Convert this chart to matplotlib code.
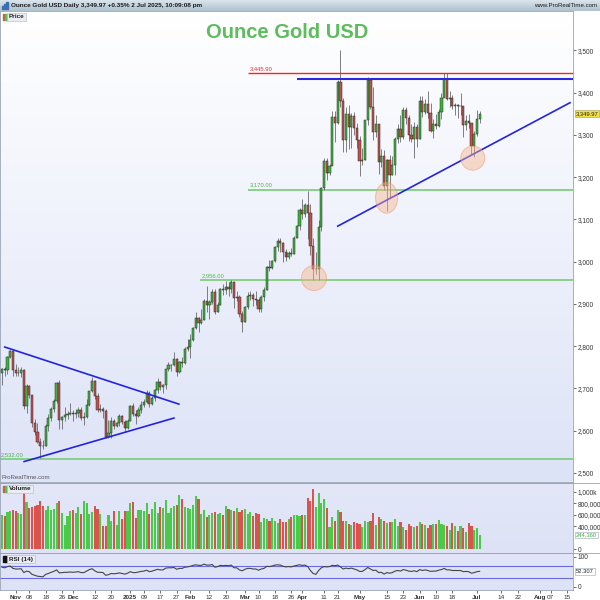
import numpy as np
import pandas as pd
import matplotlib
matplotlib.use('Agg')
import matplotlib.pyplot as plt
from matplotlib.patches import Ellipse, Rectangle
from matplotlib.lines import Line2D
from matplotlib.colors import LinearSegmentedColormap

plt.rcParams['font.family'] = ['Liberation Sans', 'DejaVu Sans']

# trading days (no bars on these holidays)
holidays = ['2024-12-25', '2025-01-01', '2025-04-18']
all_days = pd.bdate_range('2024-10-25', '2025-08-29').drop(pd.to_datetime(holidays))
dates = all_days[all_days <= '2025-07-02']

first_open = 2736
closes = [2747, 2743, 2774, 2788, 2743,
          2736, 2736, 2743, 2659, 2706, 2685, 2618, 2598, 2573, 2565, 2563, 2612, 2631, 2651, 2670, 2712, 2626, 2633, 2638, 2639, 2643,
          2639, 2643, 2650, 2631, 2633, 2660, 2694, 2718, 2681, 2648, 2652, 2646, 2586, 2594, 2622, 2612, 2618, 2634, 2621, 2606, 2624,
          2658, 2640, 2636, 2648, 2662, 2669, 2690, 2663, 2677, 2697, 2715, 2703, 2708, 2745, 2755, 2755, 2770, 2740, 2763, 2760, 2794, 2798,
          2815, 2842, 2867, 2856, 2861, 2908, 2898, 2904, 2928, 2882, 2898, 2935, 2933, 2939, 2936, 2951, 2915, 2916, 2876, 2858,
          2893, 2918, 2920, 2911, 2910, 2889, 2917, 2934, 2988, 2984, 3001, 3034, 3048, 3043, 3023, 3011, 3020, 3018, 3057, 3084, 3123,
          3113, 3133, 3114, 3037, 2982, 2982, 3082, 3175, 3237, 3210, 3227, 3342, 3327, 3424, 3380, 3288, 3349, 3319, 3344, 3316, 3288,
          3239, 3240, 3334, 3430, 3366, 3306, 3325, 3236, 3249, 3178, 3240, 3205, 3229, 3290, 3315, 3294, 3358, 3341, 3300, 3289, 3318, 3289,
          3381, 3353, 3374, 3352, 3310, 3326, 3322, 3355, 3386, 3433, 3385, 3388, 3369, 3370, 3368, 3368, 3324, 3332, 3328, 3274, 3303,
          3338, 3349.97]
highs = [2749, 2750, 2776, 2790, 2790,
         2758, 2750, 2750, 2745, 2710, 2709, 2685, 2627, 2618, 2583, 2577, 2616, 2639, 2656, 2674, 2716, 2721, 2636, 2657, 2647, 2666,
         2649, 2652, 2657, 2657, 2644, 2676, 2695, 2726, 2721, 2690, 2664, 2655, 2651, 2626, 2632, 2627, 2621, 2639, 2637, 2625, 2627,
         2660, 2665, 2648, 2656, 2670, 2674, 2697, 2694, 2681, 2699, 2724, 2717, 2711, 2746, 2763, 2758, 2786, 2773, 2766, 2774, 2799, 2817,
         2830, 2845, 2882, 2870, 2887, 2911, 2942, 2910, 2935, 2935, 2905, 2938, 2947, 2955, 2953, 2956, 2952, 2930, 2922, 2883,
         2896, 2928, 2930, 2926, 2930, 2915, 2922, 2940, 2990, 3005, 3003, 3038, 3055, 3057, 3047, 3029, 3025, 3033, 3060, 3087, 3128,
         3149, 3139, 3167, 3136, 3055, 3022, 3099, 3176, 3245, 3245, 3232, 3357, 3357, 3430, 3500, 3386, 3367, 3371, 3352, 3353, 3327,
         3297, 3270, 3336, 3437, 3435, 3414, 3347, 3326, 3266, 3265, 3242, 3253, 3249, 3295, 3325, 3346, 3366, 3366, 3348, 3326, 3330, 3326,
         3393, 3392, 3385, 3403, 3375, 3338, 3349, 3360, 3398, 3446, 3446, 3403, 3395, 3375, 3374, 3398, 3368, 3347, 3350, 3328, 3309,
         3358, 3357]
lows = [2709, 2730, 2735, 2771, 2730,
        2730, 2730, 2726, 2652, 2643, 2677, 2610, 2590, 2570, 2536, 2556, 2563, 2599, 2622, 2644, 2666, 2605, 2605, 2624, 2627, 2637,
        2622, 2631, 2633, 2625, 2613, 2631, 2658, 2691, 2675, 2644, 2645, 2630, 2583, 2583, 2583, 2603, 2610, 2612, 2615, 2597, 2603,
        2624, 2635, 2615, 2633, 2641, 2657, 2666, 2656, 2660, 2670, 2689, 2696, 2690, 2699, 2741, 2741, 2752, 2730, 2736, 2751, 2757, 2789,
        2772, 2812, 2840, 2834, 2853, 2861, 2880, 2864, 2900, 2876, 2881, 2897, 2922, 2924, 2919, 2926, 2890, 2906, 2869, 2833,
        2857, 2888, 2910, 2894, 2897, 2880, 2880, 2906, 2932, 2977, 2982, 3000, 3026, 3023, 2999, 3002, 3006, 3013, 3017, 3055, 3076,
        3100, 3105, 3054, 3015, 2956, 2970, 2957, 3073, 3169, 3193, 3204, 3228, 3283, 3326, 3367, 3260, 3260, 3266, 3268, 3300, 3268,
        3202, 3228, 3240, 3324, 3360, 3288, 3294, 3207, 3224, 3170, 3121, 3154, 3205, 3205, 3280, 3282, 3289, 3325, 3285, 3284, 3245, 3272,
        3289, 3343, 3349, 3340, 3307, 3293, 3315, 3318, 3337, 3398, 3382, 3366, 3362, 3348, 3340, 3347, 3295, 3311, 3317, 3255, 3247,
        3297, 3328]
# volume in thousands
volumes = [600, 580, 650, 660, 690,
           660, 640, 620, 1030, 830, 720, 740, 760, 770, 840, 760, 680, 750, 690, 700, 800, 850, 630, 420, 580, 660,
           680, 640, 740, 620, 850, 800, 610, 650, 760, 700, 610, 400, 400, 590, 500, 660, 420, 660, 530, 660, 660,
           800, 820, 540, 690, 690, 670, 800, 610, 700, 820, 640, 730, 720, 860, 640, 720, 750, 780, 950, 870, 740, 720,
           700, 780, 930, 880, 620, 680, 560, 600, 640, 650, 620, 640, 600, 750, 710, 690, 660, 720, 650, 680,
           700, 620, 650, 580, 640, 620, 470, 550, 520, 500, 540, 490, 450, 520, 470, 470, 520, 560, 600, 590, 580,
           590, 600, 890, 850, 1060, 730, 980, 810, 880, 720, 380, 560, 500, 680, 650, 500, 490, 430, 420, 470, 450,
           430, 380, 490, 480, 500, 640, 420, 560, 520, 500, 460, 470, 480, 520, 400, 470, 380, 340, 430, 400, 380, 400,
           480, 440, 420, 360, 420, 430, 430, 510, 440, 420, 410, 330, 460, 400, 320, 410, 360, 290, 460, 410, 330,
           370, 244.36]
rsi = [66, 64, 68, 70, 62,
       60, 60, 61, 48, 53, 51, 42, 39, 36, 35, 34, 42, 45, 49, 52, 57, 47, 48, 49, 49, 50,
       49, 50, 51, 48, 48, 53, 58, 61, 54, 49, 49, 48, 39, 41, 45, 44, 45, 47, 45, 43, 46,
       51, 48, 48, 50, 52, 53, 56, 51, 53, 56, 59, 57, 57, 63, 64, 64, 65, 59, 62, 62, 66, 67,
       69, 72, 74, 72, 72, 76, 73, 73, 75, 66, 68, 72, 71, 72, 71, 73, 64, 64, 57, 54,
       59, 62, 62, 60, 60, 56, 60, 62, 69, 68, 70, 73, 74, 73, 69, 67, 68, 67, 70, 72, 74,
       72, 73, 68, 55, 45, 42, 55, 64, 68, 67, 68, 72, 71, 73, 67, 60, 63, 61, 63, 60, 57,
       52, 52, 58, 65, 60, 55, 56, 48, 49, 43, 48, 46, 48, 53, 55, 53, 58, 56, 53, 52, 54, 51,
       58, 55, 57, 55, 52, 53, 53, 56, 58, 62, 57, 57, 55, 55, 55, 55, 51, 52, 51, 46, 48,
       51, 52.307]

# drawn levels and trendlines (bar index, price)
red_level = 3445.90
blue_level = 3431
green_levels = [(3170, 90.1), (2956, 72.5), (2532, -1)]
trendlines = [((1.0, 2798), (64.8, 2663)),
              ((8.1, 2527), (63.0, 2630)),
              ((123.0, 3084), (208.1, 3376))]
circles = [(114.3, 2961, 9.2, 59), (140.9, 3151, 8.1, 73), (172.5, 3245, 8.8, 57)]

x_labels = [('2024-11-01', 'Nov'), ('2024-11-08', '08'), ('2024-11-18', '18'), ('2024-11-26', '26'),
            ('2024-12-02', 'Dec'), ('2024-12-12', '12'), ('2024-12-20', '20'), ('2025-01-02', '2025'),
            ('2025-01-09', '09'), ('2025-01-17', '17'), ('2025-01-27', '27'), ('2025-02-03', 'Feb'),
            ('2025-02-12', '12'), ('2025-02-20', '20'), ('2025-03-03', 'Mar'), ('2025-03-10', '10'),
            ('2025-03-18', '18'), ('2025-03-26', '26'), ('2025-04-01', 'Apr'), ('2025-04-11', '11'),
            ('2025-04-21', '21'), ('2025-05-01', 'May'), ('2025-05-15', '15'), ('2025-05-23', '23'),
            ('2025-06-02', 'Jun'), ('2025-06-10', '10'), ('2025-06-18', '18'), ('2025-07-01', 'Jul'),
            ('2025-07-14', '14'), ('2025-07-22', '22'), ('2025-08-01', 'Aug'), ('2025-08-07', '07'),
            ('2025-08-15', '15')]

opens = [first_open] + closes[:-1]
x = np.arange(len(dates))
o = np.array(opens, float)
c = np.array(closes, float)
up = c >= o

W, H = 600, 600
fig = plt.figure(figsize=(6, 6), dpi=100, facecolor='white')


def px_axes(x0, y0, x1, y1):
    return fig.add_axes([x0 / W, 1 - y1 / H, (x1 - x0) / W, (y1 - y0) / H])


def gradient(ax, top, bottom):
    cmap = LinearSegmentedColormap.from_list('g', [bottom, top])
    ax.imshow(np.linspace(0, 1, 100).reshape(-1, 1), cmap=cmap, origin='lower',
              extent=[0, 1, 0, 1], transform=ax.transAxes, aspect='auto', zorder=0)


def style(ax):
    for s in ax.spines.values():
        s.set_color('#9aa4b4')
        s.set_linewidth(0.6)
    ax.yaxis.tick_right()
    ax.tick_params(axis='y', labelsize=4.7, length=2, width=0.5, pad=1.5,
                   colors='#333333')
    ax.set_xlim(-0.73, 209.2)
    ax.set_xticks([])


# header bar
hdr = px_axes(0, 0, 600, 11)
gradient(hdr, '#dbe5ec', '#adc1ce')
hdr.set_axis_off()
hdr.set_xlim(0, 600)
hdr.set_ylim(11, 0)
for i, hh in enumerate([3, 5, 7]):
    hdr.add_patch(Rectangle((2 + i * 2.2, 9 - hh), 1.5, hh, color='#3a6fb0'))
hdr.text(11, 5.5, 'Ounce Gold USD Daily 3,349.97 +0.35% 2 Jul 2025, 10:09:08 pm',
         fontsize=4.6, fontweight='bold', va='center', color='#1a1a1a')
hdr.text(597, 5.5, 'www.ProRealTime.com', fontsize=4.4, va='center', ha='right',
         color='#1a1a1a')

# price panel
ax = px_axes(0, 11, 573, 482)
gradient(ax, '#ffffff', '#dde3f7')
style(ax)
ax.set_ylim(2478.7, 3593)
ax.set_yticks(range(2500, 3501, 100))
ax.set_yticklabels([f'{v:,}' for v in range(2500, 3501, 100)])

ax.vlines(x, lows, highs, color='#6a6a6a', lw=0.6, zorder=2)
ax.bar(x, np.maximum(np.abs(c - o), 0.8), bottom=np.minimum(o, c), width=0.8,
       color=np.where(up, '#3db53d', '#c4504c'), edgecolor='#2a2a2a', linewidth=0.35, zorder=3)

ax.hlines(red_level, 90.1, 209.2, color='#ff2020', lw=1.0, zorder=4)
ax.text(90.6, red_level + 5, f'{red_level:,.2f}', color='#e03030', fontsize=4.2, va='bottom')
ax.hlines(blue_level, 108.1, 209.2, color='#2a2ae0', lw=1.5, zorder=4)
for lvl, start in green_levels:
    ax.hlines(lvl, start, 209.2, color='#7fcf7f', lw=1.3, zorder=1.5)
    ax.text(start + 0.5, lvl + 5, f'{lvl:,.2f}', color='#4fb34f', fontsize=4.2, va='bottom')
for (x0, y0), (x1, y1) in trendlines:
    ax.plot([x0, x1], [y0, y1], color='#2323e0', lw=1.2, zorder=4)
for cx, cy, w, h in circles:
    ax.add_patch(Ellipse((cx, cy), w, h, facecolor='#f6b48c', alpha=0.45,
                         edgecolor='#ee9560', lw=0.8, zorder=5))

ax.text(1.005, 3349.97, '3,349.97', transform=ax.get_yaxis_transform(), fontsize=4.2,
        va='center', ha='left', color='#222222',
        bbox=dict(boxstyle='square,pad=0.15', fc='#f0e04a', ec='#a09a50', lw=0.4))
ax.text(0.003, 0.004, 'ProRealTime.com', transform=ax.transAxes, fontsize=4.4,
        color='#555555', va='bottom')

fig.text(287 / W, 1 - 32 / H, 'Ounce Gold USD', ha='center', va='center',
         fontsize=14.5, fontweight='bold', color='#5cbd5c')

# volume panel
vax = px_axes(0, 483, 573, 553)
gradient(vax, '#e3e7f8', '#dde2f6')
style(vax)
vax.bar(x, volumes, width=0.78, color=np.where(up, '#4cc84c', '#d9534f'), zorder=2)
vax.set_ylim(-70, 1158)
vax.set_yticks([0, 400, 600, 800, 1000])
vax.set_yticklabels(['0', '400,000', '600,000', '800,000', '1,000k'])
vax.text(1.005, volumes[-1], '244,360', transform=vax.get_yaxis_transform(), fontsize=4.2,
         va='center', ha='left', color='#3aae3a',
         bbox=dict(boxstyle='square,pad=0.15', fc='white', ec='#9aa4b4', lw=0.4))

# rsi panel
rax = px_axes(0, 553, 573, 590)
gradient(rax, '#e1e5f7', '#dde2f6')
style(rax)
rax.set_ylim(-10, 113.3)
rax.axhline(70, color='#6b6be0', lw=0.8, zorder=1)
rax.axhline(30, color='#6b6be0', lw=0.8, zorder=1)
rax.plot(x, rsi, color='#454545', lw=0.8, zorder=2)
rax.set_yticks([0, 100])
rax.set_yticklabels(['0', '100'])
rax.text(1.005, rsi[-1], '52.307', transform=rax.get_yaxis_transform(), fontsize=4.2,
         va='center', ha='left', color='#222222',
         bbox=dict(boxstyle='square,pad=0.15', fc='white', ec='#9aa4b4', lw=0.4))

pos = [all_days.get_loc(pd.Timestamp(d)) for d, _ in x_labels]
rax.set_xticks(pos)
rax.set_xticklabels([lab for _, lab in x_labels])
rax.tick_params(axis='x', labelsize=4.6, length=2, width=0.5, pad=1.5, colors='#333333')
for t, (_, lab) in zip(rax.get_xticklabels(), x_labels):
    if not lab.isdigit() or lab == '2025':
        t.set_fontweight('bold')

# panel labels
for ypx, name, cols in [(13, 'Price', ['#d9534f', '#4cc84c']),
                        (485, 'Volume', ['#d9534f', '#4cc84c']),
                        (555, 'RSI (14)', ['#111111', '#111111'])]:
    fig.text(9 / W, 1 - (ypx + 4) / H, name, fontsize=4.6, fontweight='bold', va='center',
             color='#222222', bbox=dict(boxstyle='square,pad=0.25', fc='#e9ecf2', ec='#b0b8c4', lw=0.4))
    fig.add_artist(Rectangle((2.5 / W, 1 - (ypx + 7) / H), 2 / W, 6 / H, color=cols[0]))
    fig.add_artist(Rectangle((4.5 / W, 1 - (ypx + 7) / H), 2 / W, 6 / H, color=cols[1]))

# separators across the axis column
for ypx in [482.5, 553]:
    fig.add_artist(Line2D([0, 1], [1 - ypx / H, 1 - ypx / H], color='#9aa4b4', lw=0.6))

fig.savefig('out.png', dpi=100, facecolor='white')
